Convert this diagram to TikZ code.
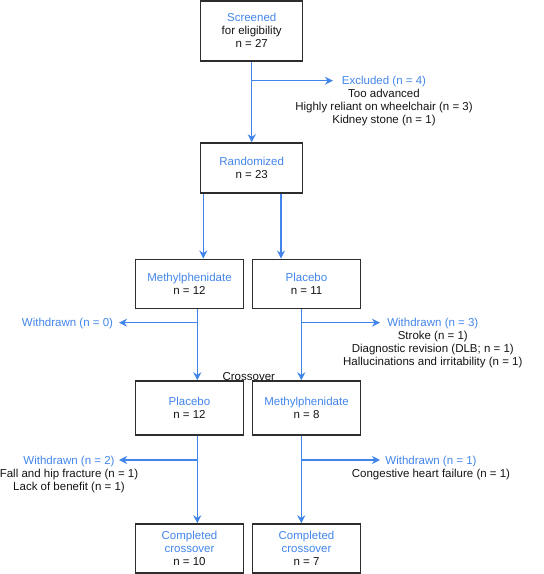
\documentclass[tikz,border=0pt]{standalone}
\usepackage{fontspec}
\setmainfont{Liberation Sans}
\usetikzlibrary{arrows.meta}
\definecolor{cblue}{RGB}{66,133,234}
\definecolor{cbord}{RGB}{45,45,45}
\definecolor{ctext}{RGB}{20,20,20}
\begin{document}
\begin{tikzpicture}[x=1pt,y=-1pt,
  every node/.style={font=\fontsize{11.5}{13}\selectfont, text=ctext},
  box/.style={draw=cbord, line width=1.4pt, rectangle, inner sep=0pt, align=center, minimum width=108pt},
  arr/.style={draw=cblue, line width=1.4pt, -{Stealth[length=8pt,width=8pt,inset=2.5pt]}},
  lbl/.style={inner sep=0pt, align=center, anchor=north}]
\useasboundingbox (0,0) rectangle (544,574);

% boxes
\node[box, minimum width=102pt, minimum height=60pt] (scr) at (251.7,30.8)
  {\textcolor{cblue}{Screened}\\for eligibility\\n = 27};
\node[box, minimum width=102pt, minimum height=50pt] (rnd) at (251.7,168)
  {\textcolor{cblue}{Randomized}\\n = 23};
\node[box, minimum height=49pt] (m1) at (189.5,283.8)
  {\textcolor{cblue}{Methylphenidate}\\n = 12};
\node[box, minimum height=49pt] (p1) at (306.5,283.8)
  {\textcolor{cblue}{Placebo}\\n = 11};
\node[box, minimum height=54pt] (p2) at (189.5,408)
  {\textcolor{cblue}{Placebo}\\n = 12};
\node[box, minimum height=54pt] (m2) at (306.5,408)
  {\textcolor{cblue}{Methylphenidate}\\n = 8};
\node[box, minimum height=49pt] (c1) at (189.5,548.5)
  {\textcolor{cblue}{Completed}\\\textcolor{cblue}{crossover}\\n = 10};
\node[box, minimum height=49pt] (c2) at (306.5,548.5)
  {\textcolor{cblue}{Completed}\\\textcolor{cblue}{crossover}\\n = 7};

% side labels
\node[lbl] (exc) at (384,76.4)
  {\textcolor{cblue}{Excluded (n = 4)}\\Too advanced\\Highly reliant on wheelchair (n = 3)\\Kidney stone (n = 1)};
\node[lbl] (w0) at (67.5,318.4) {\textcolor{cblue}{Withdrawn (n = 0)}};
\node[lbl] (w3) at (432.8,318.4)
  {\textcolor{cblue}{Withdrawn (n = 3)}\\Stroke (n = 1)\\Diagnostic revision (DLB; n = 1)\\Hallucinations and irritability (n = 1)};
\node[lbl] (xo) at (248.8,372) {Crossover};
\node[lbl] (w2) at (69,455.7)
  {\textcolor{cblue}{Withdrawn (n = 2)}\\Fall and hip fracture (n = 1)\\Lack of benefit (n = 1)};
\node[lbl] (w1) at (431,455.7)
  {\textcolor{cblue}{Withdrawn (n = 1)}\\Congestive heart failure (n = 1)};

% helper coordinates
\coordinate (xa) at (251.7,0);
\coordinate (xl) at (203.3,0);
\coordinate (xr) at (281,0);
\coordinate (xL) at (197.3,0);
\coordinate (xR) at (301.3,0);
\coordinate (b1) at (251.7,80.7);
\coordinate (e1) at (333,80.7);
\coordinate (b2) at (197.3,322.7);
\coordinate (e2) at (119,322.7);
\coordinate (b3) at (301.3,322.7);
\coordinate (e3) at (380,322.7);
\coordinate (b4) at (197.3,460);
\coordinate (e4) at (119,460);
\coordinate (b5) at (301.3,460);
\coordinate (e5) at (380,460);

% connectors
\draw[arr] (scr.south -| xa) -- (rnd.north -| xa);
\draw[arr] (b1) -- (e1);
\draw[arr] (rnd.south -| xl) -- (m1.north -| xl);
\draw[arr] (rnd.south -| xr) -- (p1.north -| xr);
\draw[arr] (m1.south -| xL) -- (p2.north -| xL);
\draw[arr] (b2) -- (e2);
\draw[arr] (p1.south -| xR) -- (m2.north -| xR);
\draw[arr] (b3) -- (e3);
\draw[arr] (p2.south -| xL) -- (c1.north -| xL);
\draw[arr] (b4) -- (e4);
\draw[arr] (m2.south -| xR) -- (c2.north -| xR);
\draw[arr] (b5) -- (e5);
\end{tikzpicture}
\end{document}
